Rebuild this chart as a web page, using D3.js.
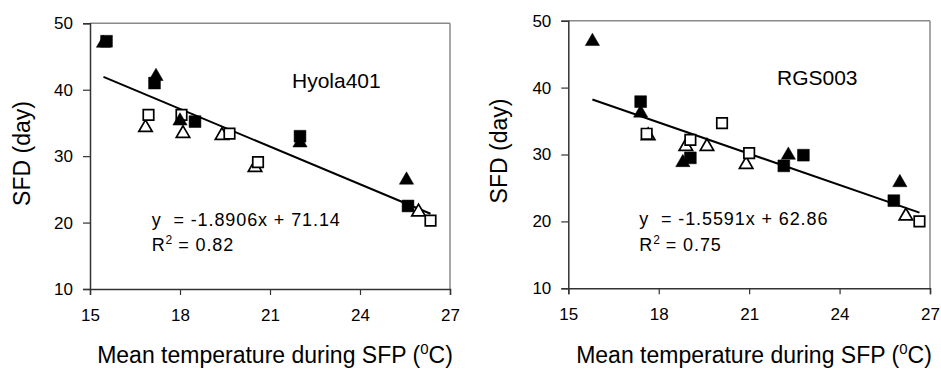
<!DOCTYPE html>
<html>
<head>
<meta charset="utf-8">
<script src="https://cdn.jsdelivr.net/npm/d3@7"></script>
<style>
  html, body { margin: 0; padding: 0; background: #fff; }
  svg { display: block; font-family: "Liberation Sans", Arial, sans-serif; }
</style>
</head>
<body>
<svg id="chart" width="941" height="369"></svg>
<script>
// ---------- DATA ----------
const xTicks = [15, 18, 21, 24, 27];
const yTicks = [10, 20, 30, 40, 50];
const panelNames = ["Hyola401", "RGS003"];
const equations = ["y  = -1.8906x + 71.14", "y  = -1.5591x + 62.86"];
const rSquared = ["0.82", "0.75"];
const slopes = [-1.8906, -1.5591];
const intercepts = [71.14, 62.86];

// Hyola401
const hyFilledTri  = [[15.45, 47.0], [17.2, 42.0], [18.0, 35.3], [22.0, 32.0], [25.55, 26.4]];
const hyFilledSq   = [[15.55, 47.3], [17.15, 41.0], [18.5, 35.2], [22.0, 33.0], [25.6, 22.5]];
const hyOpenSq     = [[16.95, 36.2], [18.05, 36.2], [19.65, 33.4], [20.6, 29.1], [26.35, 20.3]];
const hyOpenTri    = [[16.85, 34.3], [18.1, 33.4], [19.4, 33.1], [20.5, 28.3], [25.95, 21.6]];
// RGS003
const rgFilledTri  = [[15.8, 46.9], [17.4, 36.2], [18.8, 28.8], [22.3, 29.9], [26.0, 25.8]];
const rgFilledSq   = [[17.4, 37.9], [19.05, 29.5], [22.15, 28.3], [22.8, 29.9], [25.8, 23.1]];
const rgOpenSq     = [[17.6, 33.1], [19.05, 32.2], [20.1, 34.7], [21.0, 30.2], [26.65, 20.0]];
const rgOpenTri    = [[17.65, 32.8], [18.9, 31.2], [19.6, 31.2], [20.9, 28.5], [26.2, 20.8]];

const panelSeries = [
  { openSq: hyOpenSq, openTri: hyOpenTri, filledTri: hyFilledTri, filledSq: hyFilledSq },
  { openSq: rgOpenSq, openTri: rgOpenTri, filledTri: rgFilledTri, filledSq: rgFilledSq }
];

// ---------- LAYOUT ----------
const layouts = [
  { left: 90,  right: 450, top: 23.3, bottom: 289,
    nameX: 292, nameY: 88, eqX: 151.7, eqY: 225.5, r2Y: 250.7, yTitleX: 30, yTitleY: 153.5, xTitleX: 275 },
  { left: 568.3, right: 930, top: 20.7, bottom: 288.3,
    nameX: 777, nameY: 85, eqX: 639.3, eqY: 225, r2Y: 250.7, yTitleX: 507, yTitleY: 151, xTitleX: 754 }
];

const svg = d3.select("#chart");
const axisColor = "#333";
const frameColor = "#8a8a8a";
const FONT = '"Liberation Sans", Arial, sans-serif';

layouts.forEach((L, i) => {
  const x = d3.scaleLinear().domain([15, 27]).range([L.left, L.right]);
  const y = d3.scaleLinear().domain([10, 50]).range([L.bottom, L.top]);
  const g = svg.append("g");

  // frame (top & right)
  g.append("line").attr("x1", x(15)).attr("x2", x(27)).attr("y1", y(50)).attr("y2", y(50))
    .attr("stroke", frameColor).attr("stroke-width", 1.5);
  g.append("line").attr("x1", x(27)).attr("x2", x(27)).attr("y1", y(50)).attr("y2", y(10))
    .attr("stroke", frameColor).attr("stroke-width", 1.5);

  // y axis
  const yAxis = d3.axisLeft(y).tickValues(yTicks).tickSize(7).tickPadding(10).tickFormat(d3.format("d"));
  const gy = g.append("g").attr("transform", `translate(${L.left},0)`).call(yAxis);
  gy.select(".domain").attr("stroke", axisColor).attr("stroke-width", 1.5);
  gy.selectAll(".tick line").attr("stroke", axisColor).attr("stroke-width", 1.2);
  gy.selectAll(".tick text").attr("fill", "#000").style("font-size", "17px").style("font-family", FONT);

  // x axis
  const xAxis = d3.axisBottom(x).tickValues(xTicks).tickSize(6).tickPadding(14).tickFormat(d3.format("d"));
  const gx = g.append("g").attr("transform", `translate(0,${L.bottom})`).call(xAxis);
  gx.select(".domain").attr("stroke", axisColor).attr("stroke-width", 1.5);
  gx.selectAll(".tick line").attr("stroke", axisColor).attr("stroke-width", 1.2);
  gx.selectAll(".tick text").attr("fill", "#000").style("font-size", "17px").style("font-family", FONT);

  // regression line across the data extent
  const S = panelSeries[i];
  const allX = [].concat(S.openSq, S.openTri, S.filledTri, S.filledSq).map(d => d[0]);
  const ext = d3.extent(allX);
  const lineData = ext.map(t => [t, slopes[i] * t + intercepts[i]]);
  g.append("path").datum(lineData)
    .attr("d", d3.line().x(d => x(d[0])).y(d => y(d[1])))
    .attr("stroke", "#000").attr("stroke-width", 2).attr("fill", "none");

  // markers
  const sq = d3.symbol().type(d3.symbolSquare).size(110)();
  const sqF = d3.symbol().type(d3.symbolSquare).size(140)();
  const tri = d3.symbol().type(d3.symbolTriangle).size(78)();
  const triF = d3.symbol().type(d3.symbolTriangle).size(88)();

  const draw = (data, path, fill, cls) => {
    g.selectAll("path." + cls).data(data).join("path").attr("class", cls)
      .attr("d", path)
      .attr("transform", d => `translate(${x(d[0])},${y(d[1])})`)
      .attr("fill", fill).attr("stroke", "#000").attr("stroke-width", fill === "#000" ? 0.5 : 1.7);
  };
  draw(S.openTri, tri, "#fff", "otri");
  draw(S.openSq, sq, "#fff", "osq");
  draw(S.filledTri, triF, "#000", "ftri");
  draw(S.filledSq, sqF, "#000", "fsq");

  // panel name
  g.append("text").attr("x", L.nameX).attr("y", L.nameY).text(panelNames[i])
    .style("font-size", "21px").attr("fill", "#000");

  // equation
  g.append("text").attr("x", L.eqX).attr("y", L.eqY).text(equations[i])
    .style("font-size", "18px").style("letter-spacing", "0.9px").attr("fill", "#000")
    .style("white-space", "pre");
  const r2 = g.append("text").attr("x", L.eqX).attr("y", L.r2Y)
    .style("font-size", "18px").style("letter-spacing", "0.9px").attr("fill", "#000")
    .style("white-space", "pre");
  r2.append("tspan").text("R");
  r2.append("tspan").attr("dy", -7).style("font-size", "12px").style("letter-spacing", "0px").text("2");
  r2.append("tspan").attr("dy", 7).text(" = " + rSquared[i]);

  // axis titles
  g.append("text").attr("transform", `translate(${L.yTitleX},${L.yTitleY}) rotate(-90)`)
    .attr("text-anchor", "middle").style("font-size", "23px").attr("fill", "#000").text("SFD (day)");
  const xt = g.append("text").attr("x", L.xTitleX).attr("y", 363).attr("text-anchor", "middle")
    .style("font-size", "23px").attr("fill", "#000");
  xt.append("tspan").text("Mean temperature during SFP (");
  xt.append("tspan").attr("dy", -9).style("font-size", "15px").text("0");
  xt.append("tspan").attr("dy", 9).text("C)");
});
</script>
</body>
</html>
